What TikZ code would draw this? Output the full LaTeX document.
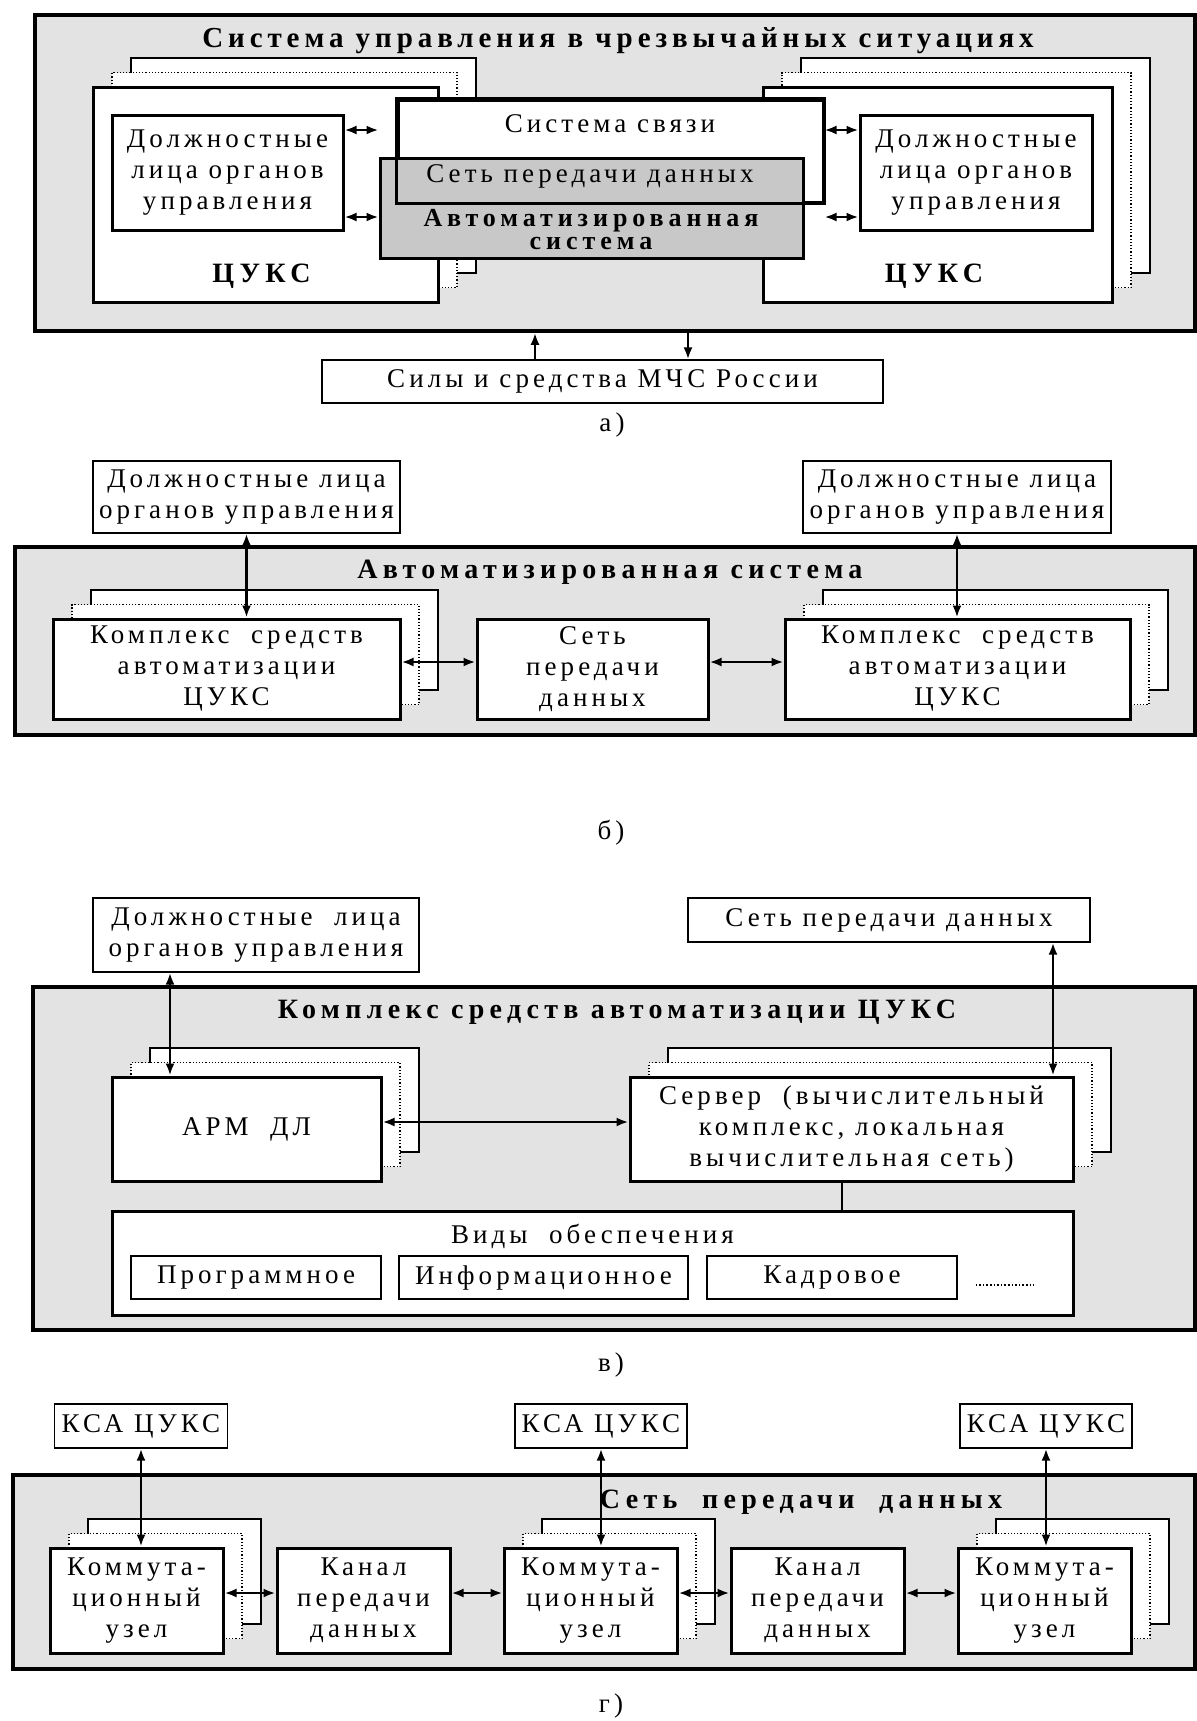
\documentclass[tikz,border=0pt]{standalone}
\usepackage{fontspec}
\setmainfont{Liberation Serif}[LetterSpace=15]
\newfontfamily\hdfont{Liberation Serif}[LetterSpace=19]
\newfontfamily\topfont{Liberation Serif}[LetterSpace=17]
\usetikzlibrary{arrows.meta,shadows}
\definecolor{paneg}{HTML}{E3E3E3}
\definecolor{asg}{HTML}{C8C8C8}
\tikzset{
  txt/.style={font=\fontsize{13.5}{15.5}\selectfont},
  hd/.style={font=\hdfont\bfseries\fontsize{14}{16}\selectfont, inner sep=0pt},
  wh/.style 2 args={minimum width=#1*0.5pt, minimum height=#2*0.5pt},
  panel/.style={draw, line width=1.8pt, fill=paneg, inner sep=0pt},
  blk/.style={draw, line width=1.5pt, fill=white, inner sep=0pt, align=center, txt},
  tag/.style={draw, line width=0.6pt, fill=white, inner sep=0pt, align=center, txt},
  lbl/.style={inner sep=0pt, align=center, txt},
  pile/.style={
    copy shadow={shadow xshift=19pt, shadow yshift=14.5pt, draw=black, line width=0.6pt, fill=white},
    copy shadow={shadow xshift=9.5pt, shadow yshift=7.25pt, draw=black, line width=0.6pt, densely dotted, fill=white}},
  arr/.style={{Latex[length=6pt,width=4.5pt]}-{Latex[length=6pt,width=4.5pt]}, line width=1.3pt},
  arr1/.style={-{Latex[length=6pt,width=4.5pt]}, line width=1.3pt},
}
\begin{document}
\begin{tikzpicture}[x=0.5pt,y=-0.5pt]
  \useasboundingbox (0,0) rectangle (1197,1721);
  % а)
  \node[panel, wh={1160}{316}] (sysA) at (615,173) {};
  \node[inner sep=0pt, font=\topfont\bfseries\fontsize{14.5}{17}\selectfont, anchor=base] (ttlA) at (618,47) {Система управления в чрезвычайных ситуациях};
  \node[blk, pile, wh={345}{215}] (cuksL) at (265.5,194.5) {};
  \node[blk, pile, wh={349}{215}] (cuksR) at (937.5,194.5) {};
  \node[blk, wh={231}{115}] (dlL) at (227.5,172.5) {Должностные\\лица органов\\управления};
  \node[blk, wh={232}{115}] (dlR) at (976,172.5) {Должностные\\лица органов\\управления};
  \node[hd, anchor=base] (cuksLt) at (261.5,282) {ЦУКС};
  \node[hd, anchor=base] (cuksRt) at (934,282) {ЦУКС};
  \node[blk, wh={425}{102}] (svyaz) at (610.5,151) {};
  \node[blk, fill=asg, wh={423}{100}] (asys) at (591.5,208) {};
  \draw[line width=1.5pt] (svyaz.north west) rectangle (svyaz.south east);
  \node[lbl, anchor=base] (svyazt) at (610,132) {Система связи};
  \node[lbl, anchor=base] (spdA) at (590,182) {Сеть передачи данных};
  \node[hd, anchor=base, font=\hdfont\bfseries\fontsize{13}{12}\selectfont] (asyst1) at (591,226) {Автоматизированная};
  \node[hd, anchor=base, font=\hdfont\bfseries\fontsize{13}{12}\selectfont] (asyst2) at (591,249) {система};
  \draw[arr] ([yshift=21.25pt]dlL.east) -- ([yshift=21.25pt]dlL.east -| asys.west);
  \draw[arr] ([yshift=-22.25pt]dlL.east) -- ([yshift=-22.25pt]dlL.east -| asys.west);
  \draw[arr] ([yshift=21.25pt]dlR.west) -- ([yshift=21.25pt]dlR.west -| svyaz.east);
  \draw[arr] ([yshift=-22.25pt]dlR.west) -- ([yshift=-22.25pt]dlR.west -| svyaz.east);
  \node[tag, wh={561}{43}] (sily) at (602.5,381.5) {Силы и средства МЧС России};
  \draw[arr1] ([xshift=-33.75pt]sily.north) -- ([xshift=-33.75pt]sily.north |- sysA.south);
  \draw[arr1] ([xshift=42.75pt]sily.north |- sysA.south) -- ([xshift=42.75pt]sily.north);
  \node[lbl] (capA) at (612,425) {а)};
  % б)
  \node[tag, wh={307}{72}] (dlbL) at (246.5,497) {Должностные лица\\органов управления};
  \node[tag, wh={308}{72}] (dlbR) at (957,497) {Должностные лица\\органов управления};
  \node[panel, wh={1180}{188}] (sysB) at (605,641) {};
  \node[hd, anchor=base] (ttlB) at (610,578) {Автоматизированная система};
  \node[blk, pile, wh={347}{100}] (ksaL) at (226.5,669) {Комплекс\ \ средств\\автоматизации\\ЦУКС};
  \node[blk, wh={231}{100}] (spdB) at (592.5,669) {Сеть\\передачи\\данных};
  \node[blk, pile, wh={345}{100}] (ksaR) at (957.5,669) {Комплекс\ \ средств\\автоматизации\\ЦУКС};
  \draw[arr] (dlbL.south) -- (dlbL.south |- ksaL.north);
  \draw[arr] (dlbR.south) -- (dlbR.south |- ksaR.north);
  \draw[arr] ([yshift=3.5pt]ksaL.east) -- ([yshift=3.5pt]ksaL.east -| spdB.west);
  \draw[arr] ([yshift=3.5pt]spdB.east) -- ([yshift=3.5pt]spdB.east -| ksaR.west);
  \node[lbl] (capB) at (611,833) {б)};
  % в)
  \node[tag, wh={326}{74}] (dlc) at (256,935) {Должностные\ \ лица\\органов управления};
  \node[tag, wh={402}{44}] (spdC) at (889,920) {Сеть передачи данных};
  \node[panel, wh={1162}{343}] (sysC) at (614,1158.5) {};
  \node[hd, anchor=base] (ttlC) at (617,1018) {Комплекс средств автоматизации ЦУКС};
  \node[blk, pile, wh={269}{104}] (arm) at (246.5,1129) {АРМ\ \ ДЛ};
  \node[blk, pile, wh={443}{104}] (srv) at (851.5,1129) {Сервер\ \ (вычислительный\\комплекс, локальная\\вычислительная сеть)};
  \node[blk, wh={961}{104}] (vidy) at (592.5,1263) {};
  \node[lbl, anchor=base] (vidyt) at (592.5,1243) {Виды\ \ обеспечения};
  \node[tag, wh={250}{43}] (prog) at (256,1277.5) {Программное};
  \node[tag, wh={289}{43}] (info) at (543.5,1277.5) {Информационное};
  \node[tag, wh={250}{43}] (kadr) at (832,1277.5) {Кадровое};
  \draw[densely dotted, line width=0.8pt] (kadr.east) ++(9pt,-3.75pt) -- ++(29pt,0pt);
  \draw[arr] ([xshift=-38.25pt]arm.north |- dlc.south) -- ([xshift=-38.25pt]arm.north);
  \draw[arr] ([xshift=100.75pt]srv.north |- spdC.south) -- ([xshift=100.75pt]srv.north);
  \draw[arr] ([yshift=3.5pt]arm.east) -- ([yshift=3.5pt]arm.east -| srv.west);
  \draw[line width=0.8pt] ([xshift=-4.75pt]srv.south) -- ([xshift=-4.75pt]srv.south |- vidy.north);
  \node[lbl] (capC) at (611,1365) {в)};
  % г)
  \node[tag, wh={173}{44}] (ksa1) at (141,1426) {КСА ЦУКС};
  \node[tag, wh={172}{44}] (ksa2) at (601,1426) {КСА ЦУКС};
  \node[tag, wh={172}{44}] (ksa3) at (1046,1426) {КСА ЦУКС};
  \node[panel, wh={1182}{194}] (sysD) at (604,1572) {};
  \node[hd, anchor=base] (ttlD) at (801,1508) {Сеть\ \ передачи\ \ данных};
  \node[blk, pile, wh={173}{105}] (uz1) at (136.5,1600.5) {Коммута-\\ционный\\узел};
  \node[blk, wh={173}{105}] (kan1) at (363.5,1600.5) {Канал\\передачи\\данных};
  \node[blk, pile, wh={173}{105}] (uz2) at (590.5,1600.5) {Коммута-\\ционный\\узел};
  \node[blk, wh={173}{105}] (kan2) at (817.5,1600.5) {Канал\\передачи\\данных};
  \node[blk, pile, wh={173}{105}] (uz3) at (1044.5,1600.5) {Коммута-\\ционный\\узел};
  \draw[arr] (ksa1.south) -- (ksa1.south |- uz1.north);
  \draw[arr] (ksa2.south) -- (ksa2.south |- uz2.north);
  \draw[arr] (ksa3.south) -- (ksa3.south |- uz3.north);
  \draw[arr] ([yshift=3.75pt]uz1.east) -- ([yshift=3.75pt]uz1.east -| kan1.west);
  \draw[arr] ([yshift=3.75pt]kan1.east) -- ([yshift=3.75pt]kan1.east -| uz2.west);
  \draw[arr] ([yshift=3.75pt]uz2.east) -- ([yshift=3.75pt]uz2.east -| kan2.west);
  \draw[arr] ([yshift=3.75pt]kan2.east) -- ([yshift=3.75pt]kan2.east -| uz3.west);
  \node[lbl] (capD) at (611,1706) {г)};
\end{tikzpicture}
\end{document}
